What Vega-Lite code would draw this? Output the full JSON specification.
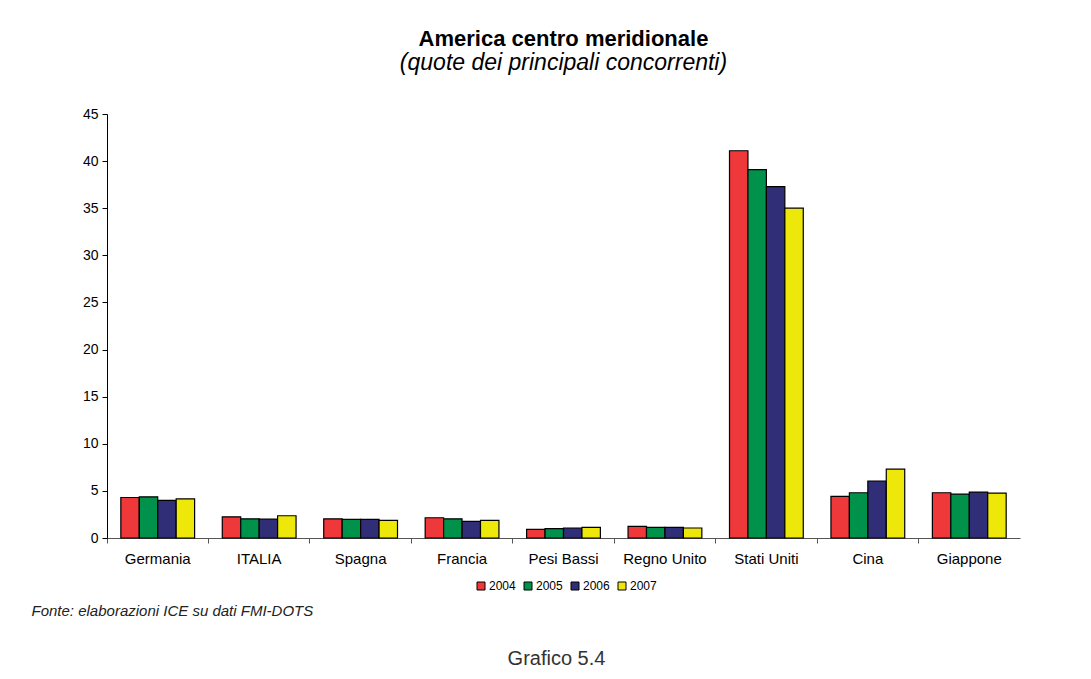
{
  "$schema": "https://vega.github.io/schema/vega-lite/v6.json",
  "width": 913,
  "height": 424,
  "autosize": {"type": "none"},
  "padding": {"left": 107, "top": 114, "right": 71, "bottom": 141},
  "background": "white",
  "title": {
    "text": "America centro meridionale",
    "subtitle": "(quote dei principali concorrenti)",
    "font": "Liberation Sans",
    "fontSize": 22,
    "fontWeight": "bold",
    "color": "black",
    "subtitleFont": "Liberation Sans",
    "subtitleFontSize": 23,
    "subtitleFontStyle": "italic",
    "subtitleColor": "black",
    "subtitlePadding": 1,
    "anchor": "middle",
    "offset": 31
  },
  "data": {
    "values": [
      {"paese": "Germania", "anno": "2004", "quota": 4.3},
      {"paese": "Germania", "anno": "2005", "quota": 4.37},
      {"paese": "Germania", "anno": "2006", "quota": 4.0},
      {"paese": "Germania", "anno": "2007", "quota": 4.16},
      {"paese": "ITALIA", "anno": "2004", "quota": 2.25},
      {"paese": "ITALIA", "anno": "2005", "quota": 2.04},
      {"paese": "ITALIA", "anno": "2006", "quota": 2.0},
      {"paese": "ITALIA", "anno": "2007", "quota": 2.36},
      {"paese": "Spagna", "anno": "2004", "quota": 2.04},
      {"paese": "Spagna", "anno": "2005", "quota": 1.97},
      {"paese": "Spagna", "anno": "2006", "quota": 1.97},
      {"paese": "Spagna", "anno": "2007", "quota": 1.87},
      {"paese": "Francia", "anno": "2004", "quota": 2.15},
      {"paese": "Francia", "anno": "2005", "quota": 2.04},
      {"paese": "Francia", "anno": "2006", "quota": 1.76},
      {"paese": "Francia", "anno": "2007", "quota": 1.87},
      {"paese": "Pesi Bassi", "anno": "2004", "quota": 0.92},
      {"paese": "Pesi Bassi", "anno": "2005", "quota": 0.99},
      {"paese": "Pesi Bassi", "anno": "2006", "quota": 1.06},
      {"paese": "Pesi Bassi", "anno": "2007", "quota": 1.13},
      {"paese": "Regno Unito", "anno": "2004", "quota": 1.23},
      {"paese": "Regno Unito", "anno": "2005", "quota": 1.13},
      {"paese": "Regno Unito", "anno": "2006", "quota": 1.13},
      {"paese": "Regno Unito", "anno": "2007", "quota": 1.06},
      {"paese": "Stati Uniti", "anno": "2004", "quota": 41.1},
      {"paese": "Stati Uniti", "anno": "2005", "quota": 39.1},
      {"paese": "Stati Uniti", "anno": "2006", "quota": 37.3},
      {"paese": "Stati Uniti", "anno": "2007", "quota": 35.0},
      {"paese": "Cina", "anno": "2004", "quota": 4.41},
      {"paese": "Cina", "anno": "2005", "quota": 4.8},
      {"paese": "Cina", "anno": "2006", "quota": 6.03},
      {"paese": "Cina", "anno": "2007", "quota": 7.3},
      {"paese": "Giappone", "anno": "2004", "quota": 4.8},
      {"paese": "Giappone", "anno": "2005", "quota": 4.66},
      {"paese": "Giappone", "anno": "2006", "quota": 4.87},
      {"paese": "Giappone", "anno": "2007", "quota": 4.76}
    ]
  },
  "mark": {"type": "bar", "stroke": "black", "strokeWidth": 1.2},
  "encoding": {
    "x": {
      "field": "paese",
      "type": "nominal",
      "sort": null,
      "scale": {"paddingInner": 0, "paddingOuter": 0},
      "axis": {
        "labelAngle": 0,
        "labelFont": "Liberation Sans",
        "labelFontSize": 15,
        "labelColor": "black",
        "labelPadding": 8,
        "tickSize": 5,
        "tickColor": "#555555",
        "domainColor": "#555555",
        "bandPosition": 0,
        "title": "Fonte: elaborazioni ICE su dati FMI-DOTS",
        "titleFont": "Liberation Sans",
        "titleFontSize": 15,
        "titleFontStyle": "italic",
        "titleFontWeight": "normal",
        "titleColor": "#222222",
        "titleAlign": "left",
        "titleAnchor": "start",
        "titleBaseline": "alphabetic",
        "titleX": -76,
        "titleY": 77
      }
    },
    "xOffset": {
      "field": "anno",
      "type": "nominal",
      "scale": {"paddingInner": 0, "paddingOuter": 0.75}
    },
    "y": {
      "field": "quota",
      "type": "quantitative",
      "scale": {"domain": [0, 45]},
      "axis": {
        "values": [0, 5, 10, 15, 20, 25, 30, 35, 40, 45],
        "grid": false,
        "labelFont": "Liberation Sans",
        "labelFontSize": 14,
        "labelColor": "black",
        "labelPadding": 4,
        "tickSize": 5,
        "tickColor": "black",
        "domainColor": "black",
        "title": "Grafico 5.4",
        "titleFont": "Liberation Sans",
        "titleFontSize": 20,
        "titleFontWeight": "normal",
        "titleColor": "#333333",
        "titleAngle": 0,
        "titleAlign": "center",
        "titleBaseline": "alphabetic",
        "titleX": 449,
        "titleY": 550
      }
    },
    "color": {
      "field": "anno",
      "type": "nominal",
      "scale": {
        "domain": ["2004", "2005", "2006", "2007"],
        "range": ["#EE383A", "#00914B", "#312E78", "#EEE80A"]
      },
      "legend": {
        "orient": "none",
        "legendX": 368,
        "legendY": 466,
        "direction": "horizontal",
        "title": null,
        "symbolType": "square",
        "symbolSize": 64,
        "symbolStrokeColor": "black",
        "symbolStrokeWidth": 1,
        "labelFont": "Liberation Sans",
        "labelFontSize": 12,
        "labelColor": "black",
        "labelOffset": 2,
        "columnPadding": 6
      }
    }
  },
  "config": {"view": {"stroke": null}}
}
